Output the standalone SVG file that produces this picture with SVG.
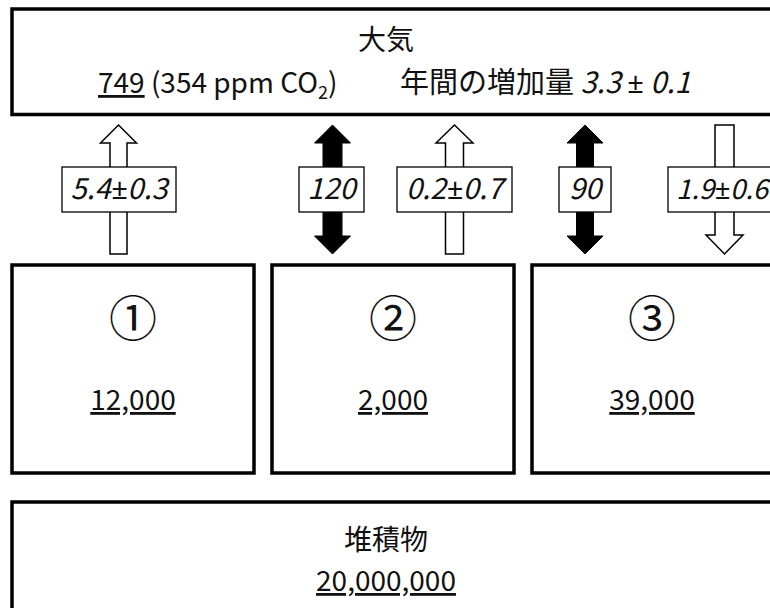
<svg xmlns="http://www.w3.org/2000/svg" width="770" height="608" viewBox="0 0 770 608">
<style>
  .box { fill: #fff; stroke: #000; stroke-width: 3.5; }
  .lbl { fill: #fff; stroke: #000; stroke-width: 1.3; }
  .hollow { fill: #fff; stroke: #000; stroke-width: 1.5; stroke-linejoin: miter; }
  .solid { fill: #000; stroke: #000; stroke-width: 1; }
  text { font-family: "Noto Sans CJK JP", "Noto Sans", sans-serif; fill: #111; }
  .t { font-size: 28px; }
  .lt { font-size: 29px; }
  .c { text-anchor: middle; }
  .it { font-style: italic; }
  .u { text-decoration: underline; }
  .pm { font-family: "Noto Sans", "DejaVu Sans", sans-serif; }
  .circ { font-size: 48px; text-anchor: middle; }
</style>
<rect width="770" height="608" fill="#fff"/>

<g id="atmosphere">
  <rect class="box" x="12" y="9" width="800" height="105.5"/>
  <text class="t c" x="386" y="50">大気</text>
  <text class="t" x="98" y="93"><tspan class="u">749</tspan> (354 ppm CO<tspan font-size="18" dy="6">2</tspan><tspan dy="-6">)</tspan></text>
  <text class="lt" x="400" y="93">年間の増加量 <tspan class="it">3.3</tspan> <tspan class="pm">±</tspan> <tspan class="it">0.1</tspan></text>
</g>

<g id="connectors">
  <g id="flow1">
    <path class="hollow" d="M118.5,125 L136.5,143 L127,143 L127,254 L110,254 L110,143 L100.5,143 Z"/>
    <rect class="lbl" x="62" y="167" width="114" height="45"/>
    <text class="lt c it" x="119" y="199">5.4<tspan class="pm">±</tspan>0.3</text>
  </g>
  <g id="flow2">
    <path class="solid" d="M332.5,125 L350.5,143 L342,143 L342,236 L350.5,236 L332.5,254 L314.5,236 L323,236 L323,143 L314.5,143 Z"/>
    <rect class="lbl" x="299" y="167" width="65" height="45"/>
    <text class="lt c it" x="331.5" y="199">120</text>
  </g>
  <g id="flow3">
    <path class="hollow" d="M454.5,125 L473,143 L463.5,143 L463.5,254 L445.5,254 L445.5,143 L436,143 Z"/>
    <rect class="lbl" x="397" y="167" width="115" height="45"/>
    <text class="lt c it" x="454.5" y="199">0.2<tspan class="pm">±</tspan>0.7</text>
  </g>
  <g id="flow4">
    <path class="solid" d="M585,125 L603,143 L593.5,143 L593.5,236 L603,236 L585,254 L567,236 L576.5,236 L576.5,143 L567,143 Z"/>
    <rect class="lbl" x="559" y="167" width="52" height="45"/>
    <text class="lt c it" x="585" y="199">90</text>
  </g>
  <g id="flow5">
    <path class="hollow" d="M715,125 L734,125 L734,235 L743,235 L724.5,254 L706,235 L715,235 Z"/>
    <rect class="lbl" x="668" y="167" width="114" height="45"/>
    <text class="it" font-size="27.5" x="676" y="199">1.9<tspan class="pm">±</tspan>0.6</text>
  </g>
</g>

<g id="reservoir1">
  <rect class="box" x="12" y="265" width="242" height="208"/>
  <text class="circ" x="133" y="336">①</text>
  <text class="t c u" x="133" y="410">12,000</text>
</g>
<g id="reservoir2">
  <rect class="box" x="272" y="265" width="242" height="208"/>
  <text class="circ" x="393" y="336">②</text>
  <text class="t c u" x="393" y="410">2,000</text>
</g>
<g id="reservoir3">
  <rect class="box" x="532" y="265" width="260" height="208"/>
  <text class="circ" x="652" y="336">③</text>
  <text class="t c u" x="652" y="410">39,000</text>
</g>

<g id="sediment">
  <rect class="box" x="12" y="502" width="800" height="200"/>
  <text class="t c" x="386" y="550">堆積物</text>
  <text class="t c u" x="386" y="591">20,000,000</text>
</g>
</svg>
